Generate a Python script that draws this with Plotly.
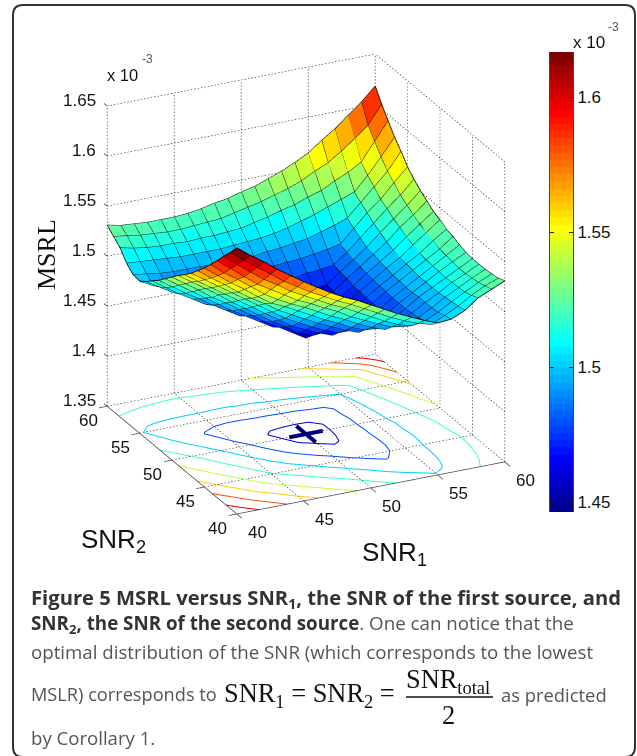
import math
import plotly.graph_objects as go

W, H = 637, 756

# Axis ticks
snr_ticks = [40, 45, 50, 55, 60]
msrl_ticks = [1.35, 1.4, 1.45, 1.5, 1.55, 1.6, 1.65]
msrl_tick_text = ["1.35", "1.4", "1.45", "1.5", "1.55", "1.6", "1.65"]
snr_grid = list(range(40, 61))
contour_levels = [1.46, 1.48, 1.50, 1.52, 1.54, 1.56, 1.58, 1.60]
colorbar_ticks = [1.45, 1.5, 1.55, 1.6]
colorbar_text = ["1.45", "1.5", "1.55", "1.6"]
color_min, color_max = 1.4463, 1.6167

# MSRL x 1e-6; the surface is symmetric in SNR1/SNR2.
# row n holds SNR2 = 40+n, SNR1 = 40 ... 40+n
msrl_rows = [
    [1616],
    [1606, 1596],
    [1597, 1586, 1576],
    [1587, 1577, 1566, 1556],
    [1578, 1567, 1558, 1548, 1538],
    [1569, 1559, 1549, 1540, 1530, 1521],
    [1561, 1551, 1542, 1532, 1523, 1515, 1506],
    [1553, 1544, 1535, 1526, 1517, 1508, 1499, 1490],
    [1546, 1537, 1528, 1519, 1510, 1501, 1492, 1483, 1474],
    [1540, 1531, 1522, 1513, 1503, 1494, 1485, 1476, 1468, 1459],
    [1533, 1524, 1515, 1505, 1497, 1488, 1479, 1470, 1462, 1454, 1446],
    [1526, 1517, 1508, 1499, 1490, 1481, 1473, 1465, 1457, 1455, 1453, 1452],
    [1519, 1510, 1501, 1493, 1484, 1476, 1468, 1465, 1463, 1462, 1462, 1463, 1464],
    [1513, 1504, 1495, 1487, 1479, 1475, 1473, 1471, 1471, 1472, 1472, 1473, 1474, 1475],
    [1507, 1499, 1491, 1485, 1483, 1481, 1480, 1480, 1481, 1481, 1482, 1482, 1484, 1485, 1487],
    [1502, 1495, 1493, 1491, 1490, 1489, 1489, 1489, 1490, 1490, 1491, 1492, 1493, 1495, 1497, 1500],
    [1503, 1501, 1499, 1498, 1498, 1498, 1497, 1497, 1498, 1498, 1500, 1501, 1503, 1505, 1509, 1513, 1518],
    [1509, 1508, 1507, 1506, 1505, 1505, 1505, 1505, 1506, 1507, 1508, 1510, 1513, 1517, 1521, 1526, 1531, 1536],
    [1519, 1516, 1514, 1513, 1513, 1512, 1513, 1513, 1514, 1515, 1518, 1521, 1525, 1528, 1533, 1537, 1544, 1550, 1558],
    [1525, 1523, 1521, 1520, 1519, 1519, 1520, 1521, 1522, 1525, 1528, 1531, 1535, 1539, 1544, 1551, 1557, 1566, 1576, 1587],
    [1531, 1528, 1527, 1526, 1526, 1526, 1527, 1529, 1532, 1534, 1538, 1541, 1546, 1551, 1557, 1564, 1574, 1583, 1594, 1605, 1618],
]

optimum_snr = 50
n = len(snr_grid)
Z = [[0.0] * n for _ in range(n)]
for r, row in enumerate(msrl_rows):
    for c, val in enumerate(row):
        Z[r][c] = val / 1000.0
        Z[c][r] = val / 1000.0


def jet(i):
    t = (i + 1) / 64
    f = lambda a: max(0.0, min(1.0, 1.5 - abs(4 * t - a)))
    return "rgb(%d,%d,%d)" % (round(255 * f(3)), round(255 * f(2)), round(255 * f(1)))


JET = [jet(i) for i in range(64)]


def color_of(v):
    i = int((v - color_min) / (color_max - color_min) * 64)
    return JET[max(0, min(63, i))]


fig = go.Figure()

# ----- surface: flat coloured facets
vx, vy, vz, ti, tj, tk, fc = [], [], [], [], [], [], []
for r in range(n):
    for c in range(n):
        vx.append(snr_grid[c]); vy.append(snr_grid[r]); vz.append(Z[r][c])
for r in range(n - 1):
    for c in range(n - 1):
        a = r * n + c
        b, d, e = a + 1, a + n, a + n + 1
        col = color_of(Z[r][c])
        ti += [a, a]; tj += [b, e]; tk += [e, d]
        fc += [col, col]
fig.add_trace(go.Mesh3d(x=vx, y=vy, z=vz, i=ti, j=tj, k=tk, facecolor=fc, flatshading=True,
                        lighting=dict(ambient=1, diffuse=0, specular=0, roughness=1, fresnel=0),
                        hoverinfo="skip", showscale=False))

# ----- facet edges
lx, ly, lz = [], [], []
for r in range(n):
    for c in range(n):
        lx.append(snr_grid[c]); ly.append(snr_grid[r]); lz.append(Z[r][c])
    lx.append(None); ly.append(None); lz.append(None)
for c in range(n):
    for r in range(n):
        lx.append(snr_grid[c]); ly.append(snr_grid[r]); lz.append(Z[r][c])
    lx.append(None); ly.append(None); lz.append(None)
fig.add_trace(go.Scatter3d(x=lx, y=ly, z=lz, mode="lines", line=dict(color="#000000", width=1.7),
                           hoverinfo="skip", showlegend=False))


def add_lines(segments, color, width, dash="solid"):
    xs, ys, zs = [], [], []
    for p, q in segments:
        xs += [p[0], q[0], None]; ys += [p[1], q[1], None]; zs += [p[2], q[2], None]
    fig.add_trace(go.Scatter3d(x=xs, y=ys, z=zs, mode="lines", line=dict(color=color, width=width, dash=dash),
                               hoverinfo="skip", showlegend=False))


def dotted(segments, dots):
    out = []
    for p, q in segments:
        for k in range(dots):
            t0 = k / dots
            t1 = (k + 0.42) / dots
            out.append((tuple(p[a] + (q[a] - p[a]) * t0 for a in range(3)),
                        tuple(p[a] + (q[a] - p[a]) * t1 for a in range(3))))
    return out


# ----- box and grid
sl, sh = snr_ticks[0], snr_ticks[-1]
zl, zh = msrl_ticks[0], msrl_ticks[-1]
grid_long, grid_side, grid_vert = [], [], []
for t in msrl_ticks:
    grid_long.append(((sl, sh, t), (sh, sh, t)))
    grid_side.append(((sh, sl, t), (sh, sh, t)))
for t in snr_ticks:
    grid_vert.append(((t, sh, zl), (t, sh, zh)))
    grid_vert.append(((sh, t, zl), (sh, t, zh)))
    if t != sl:
        grid_side.append(((t, sl, zl), (t, sh, zl)))
        grid_long.append(((sl, t, zl), (sh, t, zl)))
grid_vert.append(((sl, sh, zl), (sl, sh, zh)))
add_lines(dotted(grid_long, 80), "#222222", 1.2)
add_lines(dotted(grid_side, 50), "#222222", 1.2)
add_lines(dotted(grid_vert, 90), "#222222", 1.2)

axes = [((sl, sl, zl), (sh, sl, zl)), ((sl, sl, zl), (sl, sh, zl))]
for t in snr_ticks:
    axes.append(((t, sl, zl), (t, sl - 0.8, zl)))
    axes.append(((sl, t, zl), (sl - 0.6, t, zl)))
for t in msrl_ticks:
    axes.append(((sl, sh, t), (sl, sh + 0.5, t)))
add_lines(axes, "#444444", 1.5)


# ----- floor contours
def contour_segments(level):
    segs = []
    for r in range(n - 1):
        for c in range(n - 1):
            corners = [(c, r), (c + 1, r), (c + 1, r + 1), (c, r + 1)]
            pts = []
            for a in range(4):
                c0, r0 = corners[a]
                c1, r1 = corners[(a + 1) % 4]
                v0, v1 = Z[r0][c0], Z[r1][c1]
                if (v0 < level) != (v1 < level):
                    w = (level - v0) / (v1 - v0)
                    pts.append((snr_grid[c0] + w * (c1 - c0), snr_grid[r0] + w * (r1 - r0), zl))
            for k in range(0, len(pts) - 1, 2):
                segs.append((pts[k], pts[k + 1]))
    return segs


for lev in contour_levels:
    add_lines(contour_segments(lev), color_of(lev), 2)

# ----- optimum marker
add_lines([((optimum_snr - 1.25, optimum_snr, zl), (optimum_snr + 1.25, optimum_snr, zl)),
           ((optimum_snr, optimum_snr - 1.5, zl), (optimum_snr, optimum_snr + 1.5, zl))], "#00007f", 8)

# ----- colour bar as a heat strip
levels = [color_min + (i + 0.5) * (color_max - color_min) / 64 for i in range(64)]
scale = []
for i in range(64):
    scale.append([i / 64, JET[i]])
    scale.append([(i + 1) / 64, JET[i]])
fig.add_trace(go.Heatmap(x=[0], y=levels, z=[[v] for v in levels], zmin=color_min, zmax=color_max,
                         colorscale=scale, showscale=False, hoverinfo="skip"))

# ----- 3D tick labels
TICK = dict(family="Liberation Sans, Arial, sans-serif", size=17, color="#111111")
scene_ann = []
for t, s in zip(msrl_ticks, msrl_tick_text):
    scene_ann.append(dict(x=sl, y=sh, z=t, text=s, showarrow=False, xanchor="right", yanchor="middle",
                          xshift=-9, yshift=5, font=TICK))
for t in snr_ticks:
    scene_ann.append(dict(x=t, y=sl, z=zl, text=str(t), showarrow=False, xanchor="center", yanchor="middle",
                          xshift=21, yshift=-19, font=TICK))
    scene_ann.append(dict(x=sl, y=t, z=zl, text=str(t), showarrow=False, xanchor="center", yanchor="middle",
                          xshift=-19, yshift=-15, font=TICK))


def px(x):
    return x / W


def py(y):
    return 1 - y / H


def note(x, y, text, size, family="Liberation Sans, Arial, sans-serif", color="#111111", anchor="left", angle=0):
    return dict(xref="paper", yref="paper", x=px(x), y=py(y), text=text, showarrow=False, xanchor=anchor,
                yanchor="middle", textangle=angle, borderpad=0, font=dict(family=family, size=size, color=color))


SANS = "Open Sans, sans-serif"
SERIF = "Liberation Serif, Times New Roman, serif"
BODY = "#555555"
BOLD = "#333333"
annotations = [
    note(106, 75, "x 10", 16.5),
    note(141, 59, "-3", 12, color="#555555"),
    note(572, 42, "x 10", 17),
    note(607, 27, "-3", 12, color="#555555"),
    note(46, 255, "MSRL", 26, family=SERIF, anchor="center", angle=-90),
    note(80, 540, "SNR<sub>2</sub>", 26),
    note(361, 553, "SNR<sub>1</sub>", 26),
    note(30, 598, "<b>Figure 5 MSRL versus SNR<sub>1</sub>, the SNR of the first source, and</b>", 20.2, SANS, BOLD),
    note(30, 624, "<b><span style=\"color:#333333\">SNR<sub>2</sub>, the SNR of the second source</span></b>. One can notice that the", 18.75, SANS, BODY),
    note(30, 651, "optimal distribution of the SNR (which corresponds to the lowest", 18.7, SANS, BODY),
    note(30, 694, "MSLR) corresponds to", 18.2, SANS, BODY),
    note(223, 695, "SNR<sub>1</sub> = SNR<sub>2</sub> =", 26.4, SERIF, "#111111"),
    note(448, 681, "SNR<sub>total</sub>", 26.4, SERIF, "#111111", anchor="center"),
    note(448, 715, "2", 26.4, SERIF, "#111111", anchor="center"),
    note(500, 694, "as predicted", 18.4, SANS, BODY),
    note(30, 737, "by Corollary 1.", 18.6, SANS, BODY),
]


def card_path(l, t, r, b, q):
    pts = [("M", l + q, t), ("L", r - q, t), ("Q", r, t), ("", r, t + q), ("L", r, b - q), ("Q", r, b), ("", r - q, b),
           ("L", l + q, b), ("Q", l, b), ("", l, b - q), ("L", l, t + q), ("Q", l, t), ("", l + q, t)]
    return " ".join("%s %.5f %.5f" % (c, px(x), py(y)) for c, x, y in pts) + " Z"


shapes = [
    dict(type="path", path=card_path(13, 5, 635, 757, 10), xref="paper", yref="paper",
         line=dict(color="#333333", width=2)),
    dict(type="line", xref="paper", yref="paper", x0=px(406), x1=px(493), y0=py(697), y1=py(697),
         line=dict(color="#111111", width=1.5)),
]

phi = math.radians(25.8)
el = math.radians(23.7)
R = 1.58
eye = dict(x=-R * math.sin(phi) * math.cos(el), y=-R * math.cos(phi) * math.cos(el), z=R * math.sin(el))

ax3 = dict(visible=False, showgrid=False, zeroline=False, showbackground=False, showspikes=False)
fig.update_layout(
    width=W, height=H, margin=dict(l=0, r=0, t=0, b=0), paper_bgcolor="white", plot_bgcolor="rgba(0,0,0,0)",
    showlegend=False, hovermode=False,
    scene=dict(
        domain=dict(x=[26 / W, 586 / W], y=[py(563.5), py(3.5)]),
        xaxis=dict(range=[38, 62], **ax3), yaxis=dict(range=[38, 62], **ax3), zaxis=dict(range=[1.33, 1.67], **ax3),
        aspectmode="manual", aspectratio=dict(x=1.276, y=1.276, z=1.327),
        camera=dict(eye=eye, up=dict(x=0, y=0, z=1), center=dict(x=0, y=0, z=0), projection=dict(type="orthographic")),
        annotations=scene_ann, bgcolor="rgba(0,0,0,0)",
    ),
    xaxis=dict(domain=[550 / W, 573 / W], visible=False, anchor="y"),
    yaxis=dict(domain=[py(512), py(52)], range=[color_min, color_max], side="right", anchor="x",
               tickvals=colorbar_ticks, ticktext=colorbar_text, ticks="inside", ticklen=4, tickcolor="#222222",
               showline=True, linecolor="#444444", mirror="ticks", showgrid=False, zeroline=False,
               tickfont=dict(family="Liberation Sans, Arial, sans-serif", size=17, color="#111111")),
    annotations=annotations, shapes=shapes,
)

fig.write_html("out.html", config={"displayModeBar": False},
               post_script="document.body.style.margin='0';document.documentElement.style.overflow='hidden';")
